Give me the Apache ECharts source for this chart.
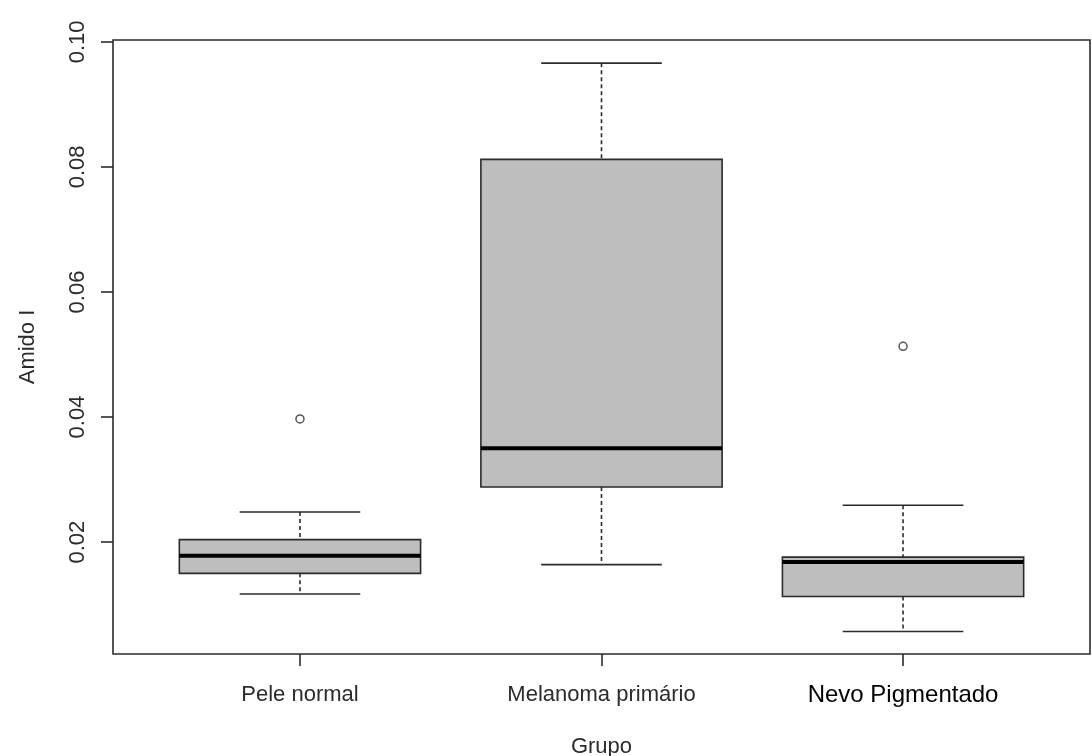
<!DOCTYPE html>
<html>
<head>
<meta charset="utf-8">
<script src="https://cdn.jsdelivr.net/npm/echarts@6/dist/echarts.min.js"></script>
<style>
  html, body { margin: 0; padding: 0; background: #fff; }
  #chart { width: 1092px; height: 756px; }
</style>
</head>
<body>
<div id="chart"></div>
<script>
// Amido I por grupo: five-number summaries (whisker ends, quartiles, median)
const categories = ['Pele normal', 'Melanoma primário', 'Nevo Pigmentado'];
const whiskerLow  = [0.0117, 0.0164, 0.0057];
const q1          = [0.0150, 0.0288, 0.0113];
const median      = [0.0178, 0.0350, 0.0168];
const q3          = [0.0204, 0.0812, 0.0176];
const whiskerHigh = [0.0248, 0.0966, 0.0259];
// outliers as [group position, value]
const outliers = [[1, 0.0397], [3, 0.0513]];
const yTicks = [0.02, 0.04, 0.06, 0.08, 0.10];
const xTicks = [1, 2, 3];

const FONT = "'Liberation Sans', Arial, sans-serif";
const INK = '#2b2b2b';

const boxData = categories.map((c, i) => [i + 1, whiskerLow[i], q1[i], median[i], q3[i], whiskerHigh[i]]);

function renderBox(params, api) {
  const x = api.value(0);
  const lo = api.coord([x, api.value(1)]);
  const b1 = api.coord([x, api.value(2)]);
  const md = api.coord([x, api.value(3)]);
  const b3 = api.coord([x, api.value(4)]);
  const hi = api.coord([x, api.value(5)]);
  const boxW = api.size([0.8, 0])[0];
  const capW = api.size([0.4, 0])[0];
  const cx = lo[0];
  const dashed = { stroke: INK, lineWidth: 1.6, lineDash: [4, 3] };
  const solid = { stroke: INK, lineWidth: 1.6 };
  return {
    type: 'group',
    children: [
      { type: 'line', shape: { x1: cx, y1: hi[1], x2: cx, y2: b3[1] }, style: dashed },
      { type: 'line', shape: { x1: cx, y1: b1[1], x2: cx, y2: lo[1] }, style: dashed },
      { type: 'line', shape: { x1: cx - capW / 2, y1: hi[1], x2: cx + capW / 2, y2: hi[1] }, style: solid },
      { type: 'line', shape: { x1: cx - capW / 2, y1: lo[1], x2: cx + capW / 2, y2: lo[1] }, style: solid },
      { type: 'rect', shape: { x: cx - boxW / 2, y: b3[1], width: boxW, height: b1[1] - b3[1] },
        style: { fill: '#bebebe', stroke: INK, lineWidth: 1.6 } },
      { type: 'line', shape: { x1: cx - boxW / 2, y1: md[1], x2: cx + boxW / 2, y2: md[1] },
        style: { stroke: '#000', lineWidth: 4 } }
    ]
  };
}

const chart = echarts.init(document.getElementById('chart'), null, { renderer: 'canvas' });
chart.setOption({
  backgroundColor: '#fff',
  animation: false,
  grid: {
    left: 113, right: 2, top: 40, bottom: 102,
    outerBoundsMode: 'none',
    containLabel: false,
    show: true, borderColor: INK, borderWidth: 1.6, backgroundColor: 'transparent'
  },
  xAxis: {
    type: 'value',
    min: 0.38, max: 3.62,
    name: 'Grupo',
    nameLocation: 'middle',
    nameGap: 82,
    nameTextStyle: { fontFamily: FONT, fontSize: 22, color: INK },
    axisLine: { show: false },
    splitLine: { show: false },
    axisTick: { show: true, customValues: xTicks, length: 12, lineStyle: { color: INK, width: 1.6 } },
    axisLabel: {
      customValues: xTicks,
      margin: 28,
      formatter: function (v) {
        const i = Math.round(v) - 1;
        return i === 2 ? '{nevo|' + categories[i] + '}' : '{r|' + categories[i] + '}';
      },
      rich: {
        r: { fontFamily: FONT, fontSize: 22, color: INK, lineHeight: 26 },
        nevo: { fontFamily: FONT, fontSize: 24, color: '#000', lineHeight: 26 }
      }
    }
  },
  yAxis: {
    type: 'value',
    min: 0.0021, max: 0.1003,
    name: 'Amido I',
    nameLocation: 'middle',
    nameRotate: 90,
    nameGap: 74,
    nameTextStyle: { fontFamily: FONT, fontSize: 22, color: INK },
    axisLine: { show: false },
    splitLine: { show: false },
    axisTick: { show: true, customValues: yTicks, length: 12, lineStyle: { color: INK, width: 1.6 } },
    axisLabel: {
      customValues: yTicks,
      rotate: 90,
      margin: 24,
      fontFamily: FONT, fontSize: 22, color: INK,
      formatter: function (v) { return v.toFixed(2); }
    }
  },
  series: [
    {
      type: 'custom',
      renderItem: renderBox,
      encode: { x: 0, y: [1, 2, 3, 4, 5] },
      data: boxData,
      silent: true
    },
    {
      type: 'scatter',
      data: outliers,
      symbol: 'circle',
      symbolSize: 8,
      itemStyle: { color: '#fff', borderColor: INK, borderWidth: 1.5 },
      silent: true
    }
  ]
});
</script>
</body>
</html>
